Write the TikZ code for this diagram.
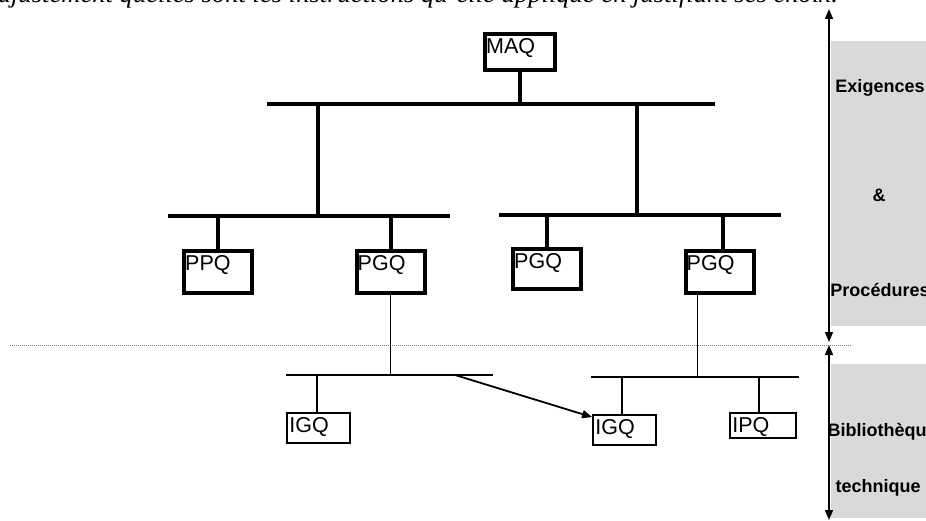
\documentclass[tikz,border=0pt]{standalone}
\usepackage{fontspec}
\setmainfont{Liberation Serif}
\newfontfamily\arial{Liberation Sans}
\usetikzlibrary{arrows.meta}
\tikzset{
	qlbl/.style={anchor=north west,inner sep=0pt,xshift=3pt,yshift=-6.5pt,font=\arial\fontsize{21.5}{25}\selectfont},
	qbox/.style={draw,line width=4pt,minimum width=68pt,minimum height=42pt,inner sep=0pt,label={[qlbl]north west:#1}},
	ibox/.style={draw,line width=1.8pt,minimum width=63pt,minimum height=30pt,inner sep=0pt,label={[qlbl,yshift=1.5pt]north west:#1}},
	bus/.style={line width=4.5pt},
	stem/.style={line width=4pt},
	fine/.style={line width=1.8pt},
	cote/.style={font=\arial\bfseries\fontsize{18}{22}\selectfont,inner sep=0pt},
	fleche/.style={line width=1.6pt,{Triangle[length=10pt,width=8pt]}-{Triangle[length=10pt,width=8pt]}}
}
\begin{document}
\begin{tikzpicture}[x=1pt,y=-1pt]
		\useasboundingbox (0,0) rectangle (926,521);
		\clip (0,0) rectangle (926,521);
		
		\node[anchor=base east,inner sep=0pt,font=\itshape\fontsize{26.6}{30}\selectfont] (consigne) at (838,3) {ajustement quelles sont les instructions qu'elle applique en justifiant ses choix.};
		
		\fill[black!15] (831,41) rectangle (930,326);
		\fill[black!15] (831,364) rectangle (930,518);
		
		\node[qbox=MAQ,minimum width=70pt,minimum height=36pt] (maq) at (520,52) {};
		\node[qbox=PPQ] (ppq) at (218,272) {};
		\node[qbox=PGQ] (pgqa) at (390.5,272) {};
		\node[qbox=PGQ,minimum height=40pt] (pgqb) at (547,269) {};
		\node[qbox=PGQ] (pgqc) at (719.5,272) {};
		
		\node[ibox=IGQ] (igqa) at (318.5,428) {};
		\node[ibox=IGQ] (igqb) at (624.5,430) {};
		\node[ibox=IPQ,minimum width=66pt,minimum height=25pt] (ipq) at (763,425.5) {};
		
		\coordinate (barA1) at (267,104);
		\coordinate (barA2) at (715,104);
		\coordinate (barB1) at (168,216);
		\coordinate (barB2) at (450,216);
		\coordinate (barC1) at (499,215);
		\coordinate (barC2) at (781,215);
		\coordinate (dropL) at (318,216);
		\coordinate (dropR) at (637,215);
		
		\draw[bus] (barA1) -- (barA2);
		\draw[bus] (barB1) -- (barB2);
		\draw[bus] (barC1) -- (barC2);
		\draw[stem] (maq) -- (maq |- barA1);
		\draw[stem] (dropL) -- (dropL |- barA1);
		\draw[stem] (dropR) -- (dropR |- barA1);
		\draw[stem] (ppq) -- (ppq |- barB1);
		\draw[stem] (pgqa) -- (pgqa |- barB1);
		\draw[stem] (pgqb) -- (pgqb |- barC1);
		\draw[stem] ([xshift=3pt]pgqc.north) -- ([xshift=3pt]pgqc.north |- barC1);
		
		\draw[gray,line width=0.8pt,dash pattern=on 1pt off 1pt] (10,345) -- (852,345);
		
		\coordinate (barD1) at (286,375);
		\coordinate (barD2) at (493,375);
		\coordinate (barE1) at (591,377);
		\coordinate (barE2) at (799,377);
		\coordinate (depart) at (455,375);
		
		\draw[fine] (barD1) -- (barD2);
		\draw[fine] (barE1) -- (barE2);
		\draw[fine] (pgqa) -- (pgqa |- barD1);
		\draw[fine] ([xshift=-22pt]pgqc.south) -- ([xshift=-22pt]pgqc.south |- barE1);
		\draw[fine] ([xshift=-1.5pt]igqa.north) -- ([xshift=-1.5pt]igqa.north |- barD1);
		\draw[fine] ([xshift=-2.5pt]igqb.north) -- ([xshift=-2.5pt]igqb.north |- barE1);
		\draw[fine] ([xshift=-4pt]ipq.north) -- ([xshift=-4pt]ipq.north |- barE1);
		\draw[fine,-{Triangle[length=10pt,width=8pt]}] (depart) -- ([yshift=-3pt]igqb.north west);
		
		\coordinate (echA) at (829,9);
		\coordinate (echB) at (829,342);
		\coordinate (echC) at (829,345);
		\coordinate (echD) at (829,520);
		\draw[fleche] (echA) -- (echB);
		\draw[fleche] (echC) -- (echD);
		
		\node[cote] (exig) at (880,88) {Exigences};
		\node[cote] (et) at (879,195) {\&};
		\node[cote] (proc) at (880,290) {Procédures};
		\node[cote] (biblio) at (882,432) {Bibliothèque};
		\node[cote] (techn) at (878,488) {technique};
	\end{tikzpicture}
\end{document}
